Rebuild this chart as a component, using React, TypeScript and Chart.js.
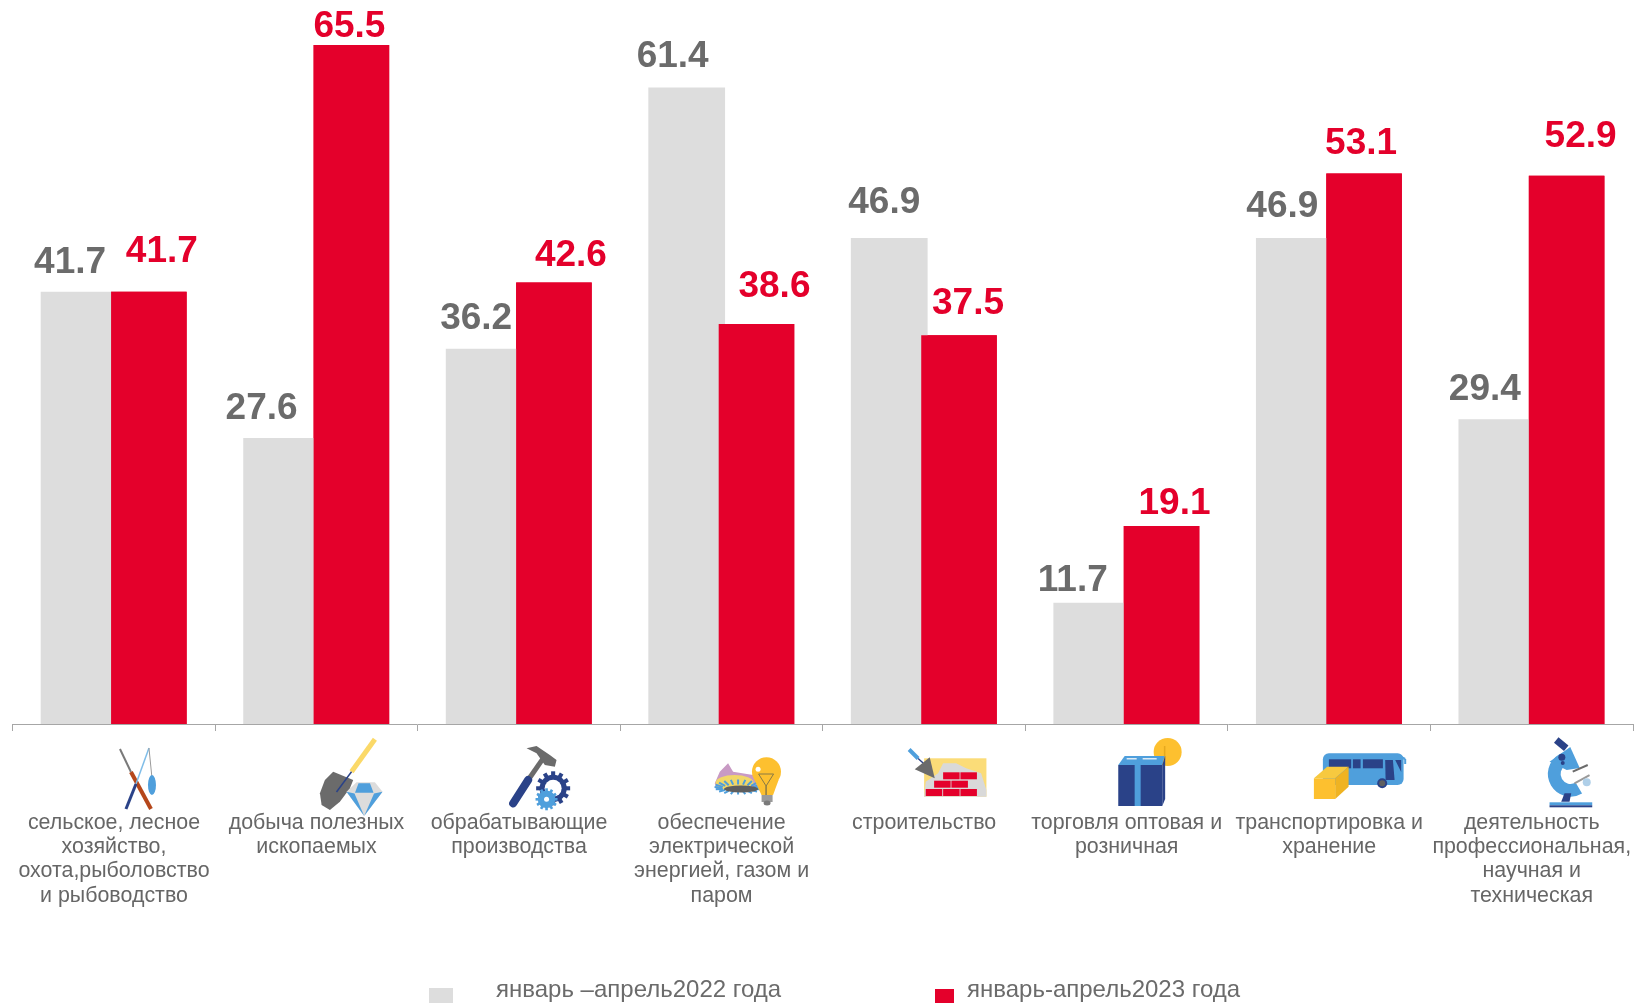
import React, { useEffect, useRef } from "react";
import { Chart, registerables } from "chart.js";

Chart.register(...registerables);

const categories: string[][] = [
  ["сельское, лесное", "хозяйство,", "охота,рыболовство", "и рыбоводство"],
  ["добыча полезных", "ископаемых"],
  ["обрабатывающие", "производства"],
  ["обеспечение", "электрической", "энергией, газом и", "паром"],
  ["строительство"],
  ["торговля оптовая и", "розничная"],
  ["транспортировка и", "хранение"],
  ["деятельность", "профессиональная,", "научная и", "техническая"],
];
const values2022 = [41.7, 27.6, 36.2, 61.4, 46.9, 11.7, 46.9, 29.4];
const values2023 = [41.7, 65.5, 42.6, 38.6, 37.5, 19.1, 53.1, 52.9];
const label2022 = "январь –апрель2022 года";
const label2023 = "январь-апрель2023 года";

const GRAY = "#DDDDDD";
const RED = "#E4002B";
const FONT = '"Liberation Sans", Arial, sans-serif';
const BLUE = "#4F9FDC";
const NAVY = "#2A4288";
const SLATE = "#6B6B6B";
const YELLOW = "#FDC02F";

// Hand-placed data label offsets from the top-centre of each bar, as in the source slide
const nudges: [number, number][][] = [
  [[-9, -29], [-20, -29], [-8, -30], [-14, -31], [-5, -35], [-19, -22], [-12, -31], [-12, -29]],
  [[13, -40], [-2, -18], [17, -27], [18, -37], [9, -32], [13, -22], [-3, -30], [14, -39]],
];
const legendLayout = [
  { box: [429, 988, 24, 15], textX: 496 },
  { box: [935, 989, 19, 14], textX: 967 },
];

type C = CanvasRenderingContext2D;
const poly = (ctx: C, color: string, pts: number[][]) => {
  ctx.fillStyle = color;
  ctx.beginPath();
  pts.forEach((p, i) => (i ? ctx.lineTo(p[0], p[1]) : ctx.moveTo(p[0], p[1])));
  ctx.closePath();
  ctx.fill();
};
const seg = (ctx: C, color: string, w: number, a: number[], b: number[]) => {
  ctx.strokeStyle = color;
  ctx.lineWidth = w;
  ctx.beginPath();
  ctx.moveTo(a[0], a[1]);
  ctx.lineTo(b[0], b[1]);
  ctx.stroke();
};
const disc = (ctx: C, color: string, x: number, y: number, rx: number, ry = rx) => {
  ctx.fillStyle = color;
  ctx.beginPath();
  ctx.ellipse(x, y, rx, ry, 0, 0, Math.PI * 2);
  ctx.fill();
};
const box = (ctx: C, color: string, x: number, y: number, w: number, h: number) => {
  ctx.fillStyle = color;
  ctx.fillRect(x, y, w, h);
};
const gear = (ctx: C, color: string, x: number, y: number, r: number) => {
  ctx.save();
  ctx.translate(x, y);
  ctx.strokeStyle = color;
  ctx.lineWidth = r * 0.24;
  for (let k = 0; k < 12; k++) {
    ctx.rotate(Math.PI / 6);
    ctx.beginPath();
    ctx.moveTo(0, r * 0.6);
    ctx.lineTo(0, r);
    ctx.stroke();
  }
  ctx.restore();
  disc(ctx, color, x, y, r * 0.8);
};

// Small pictograms above the category labels; origin is category centre on the axis line
const icons: ((ctx: C) => void)[] = [
  (ctx) => {
    seg(ctx, "#7a7a7a", 2, [6, 25], [17, 48]);
    seg(ctx, "#b5471b", 4, [17, 48], [37, 85]);
    seg(ctx, "#7fbde8", 1.5, [35, 24], [22, 60]);
    seg(ctx, NAVY, 3, [22, 60], [12, 85]);
    seg(ctx, "#9a9a9a", 1, [35, 24], [38, 54]);
    disc(ctx, BLUE, 38, 61, 4, 10);
  },
  (ctx) => {
    seg(ctx, "#FBD968", 5, [58.4, 15.3], [35, 47.7]);
    poly(ctx, SLATE, [[16.7, 47.7], [36.7, 56], [33.4, 64.3], [23.4, 77.7], [13.4, 86], [5.1, 81], [3.4, 69.3], [8.4, 56]]);
    seg(ctx, NAVY, 1.5, [35, 47.7], [20, 68]);
    poly(ctx, "#DCDCDC", [[30, 67.7], [40, 58.3], [58.4, 58.3], [66, 67.7], [47.7, 92]]);
    poly(ctx, BLUE, [[42, 59.3], [53.5, 59.3], [57, 68.7], [38.5, 68.7]]);
    poly(ctx, BLUE, [[30, 67.7], [38, 69.5], [47.7, 92]]);
    poly(ctx, BLUE, [[66, 67.7], [57.5, 69.5], [47.7, 92]]);
  },
  (ctx) => {
    seg(ctx, SLATE, 5, [9.1, 56], [24.1, 34.3]);
    ctx.lineCap = "round";
    seg(ctx, NAVY, 8, [-5.9, 79.3], [9.1, 56]);
    ctx.lineCap = "butt";
    poly(ctx, SLATE, [[7.5, 24.3], [17.5, 22], [30.8, 31], [37.5, 36], [35.8, 42.7], [25.8, 41], [17.5, 29.3]]);
    gear(ctx, NAVY, 34.1, 64.3, 17);
    disc(ctx, "#FFFFFF", 34.1, 64.3, 8.5);
    gear(ctx, BLUE, 27.5, 75.3, 11);
    disc(ctx, "#FFFFFF", 27.5, 75.3, 2.5);
  },
  (ctx) => {
    poly(ctx, "#C89AC4", [[-6.8, 59.3], [-1.8, 47.7], [6.5, 39.3], [11.5, 47.7], [31.5, 51], [36.5, 62.7], [-5, 66]]);
    disc(ctx, "#F1D766", 13, 59, 19, 8);
    ctx.save();
    ctx.translate(16.5, 64);
    for (let k = 0; k < 20; k++) {
      const a = (k / 20) * Math.PI * 2;
      seg(ctx, BLUE, 2, [Math.cos(a) * 16, Math.sin(a) * 3.5], [Math.cos(a) * 23.5, Math.sin(a) * 7.5 - 1]);
    }
    ctx.restore();
    disc(ctx, "#5F5F5F", 19.5, 65, 17, 3.5);
    disc(ctx, YELLOW, 44.9, 47.7, 14.5);
    poly(ctx, YELLOW, [[33, 56], [57, 56], [51.5, 71], [39.9, 71]]);
    disc(ctx, "#FFFFFF", 36.5, 45.3, 2.5);
    seg(ctx, "#8A7A45", 1, [37, 50], [52, 50]);
    seg(ctx, "#8A7A45", 1, [37, 50], [44.5, 62]);
    seg(ctx, "#8A7A45", 1, [52, 50], [44.5, 62]);
    seg(ctx, "#8A7A45", 1.5, [44.5, 62], [44.5, 71]);
    box(ctx, "#9A9A9A", 40, 71, 11, 7);
    disc(ctx, "#7A7A7A", 45.5, 79, 3.5, 2.5);
  },
  (ctx) => {
    box(ctx, "#FBDC78", 0, 34.3, 62.3, 38.4);
    poly(ctx, "#D9D9D9", [[0, 72.7], [1.6, 57.7], [14, 49.3], [19, 39.3], [32, 39.3], [42, 44.3], [57, 49.3], [62.3, 66], [62.3, 72.7]]);
    for (const [x, y] of [[19, 48.3], [36.3, 48.3], [10, 56.7], [27.3, 56.7], [1.6, 65], [19, 65], [36.3, 65]]) {
      box(ctx, RED, x, y, 16.5, 7);
    }
    seg(ctx, BLUE, 4, [-15, 25.5], [-6, 34.5]);
    seg(ctx, NAVY, 1.5, [-6, 34.5], [-1, 39]);
    poly(ctx, SLATE, [[5.6, 33.3], [-9.4, 45.3], [10.6, 54.3]]);
  },
  (ctx) => {
    disc(ctx, YELLOW, 41, 28, 14);
    seg(ctx, "#E5A91F", 1.5, [38, 22], [38, 36]);
    box(ctx, NAVY, -8.4, 41, 44, 41);
    poly(ctx, BLUE, [[-8.4, 41], [-2, 32], [38, 32], [35.6, 41]]);
    poly(ctx, NAVY, [[35.6, 41], [38.5, 32], [38.5, 75], [35.6, 82]]);
    box(ctx, BLUE, 8, 41, 6, 41);
    box(ctx, "#DCEBF7", 0, 34, 10, 1.5);
    box(ctx, "#DCEBF7", 16, 34, 14, 1.5);
  },
  (ctx) => {
    ctx.fillStyle = BLUE;
    ctx.beginPath();
    ctx.roundRect(-6.3, 29.3, 80.7, 31.7, 6);
    ctx.fill();
    seg(ctx, BLUE, 2, [70, 32], [76, 35]);
    seg(ctx, BLUE, 2, [76, 35], [76, 40]);
    box(ctx, NAVY, -0.3, 35.3, 22.3, 9);
    box(ctx, NAVY, 23.7, 35.3, 7.7, 9);
    box(ctx, NAVY, 33.7, 35.3, 20, 9);
    poly(ctx, NAVY, [[56, 36], [63.7, 36], [65.4, 56], [56.4, 56]]);
    poly(ctx, NAVY, [[66, 36], [72, 36], [72, 48]]);
    disc(ctx, NAVY, 53, 59.3, 5);
    disc(ctx, "#5F5F5F", 53, 59.3, 3);
    box(ctx, YELLOW, -15.3, 54.3, 21.3, 20.7);
    poly(ctx, "#F7C93F", [[-15.3, 54.3], [-2, 42.7], [19.4, 42.7], [6, 54.3]]);
    poly(ctx, "#EFB322", [[6, 54.3], [19.4, 42.7], [19.4, 62.7], [6, 75]]);
  },
  (ctx) => {
    seg(ctx, NAVY, 7, [24.5, 16], [34.5, 24.3]);
    poly(ctx, BLUE, [[17.8, 37.7], [38.5, 23], [48, 44], [35, 46]]);
    ctx.strokeStyle = BLUE;
    ctx.lineWidth = 12.7;
    ctx.beginPath();
    ctx.arc(38.8, 50, 16.3, Math.PI * 0.33, Math.PI * 1.45);
    ctx.stroke();
    disc(ctx, NAVY, 30.1, 33.3, 3.5);
    disc(ctx, NAVY, 31, 39, 2);
    seg(ctx, SLATE, 2, [41, 47.7], [56, 41]);
    seg(ctx, "#9A9A9A", 2, [42.8, 59.3], [57.8, 51]);
    disc(ctx, "#AFCFE8", 55, 58.3, 4);
    poly(ctx, NAVY, [[29.5, 77.7], [32.8, 69.3], [39.5, 69.3], [37.8, 77.7]]);
    box(ctx, BLUE, 17.8, 78.3, 42.7, 3);
    box(ctx, NAVY, 17.8, 81.3, 42.7, 2);
  },
];

const overlayPlugin = {
  id: "overlay",
  // Chart.js paints the first dataset last; the red series must lie over the grey one
  afterDatasetsDraw(chart: any) {
    chart.getDatasetMeta(1).controller.draw();
  },
  afterDraw(chart: any) {
    const ctx: C = chart.ctx;
    const xScale = chart.scales.x;
    // icons
    icons.forEach((draw, i) => {
      ctx.save();
      ctx.translate(xScale.getPixelForValue(i), chart.chartArea.bottom);
      ctx.lineCap = "butt";
      draw(ctx);
      ctx.restore();
    });
    // data labels
    ctx.save();
    ctx.font = `bold 37px ${FONT}`;
    ctx.textAlign = "center";
    ctx.textBaseline = "middle";
    chart.data.datasets.forEach((ds: any, d: number) => {
      ctx.fillStyle = d === 0 ? SLATE : RED;
      chart.getDatasetMeta(d).data.forEach((bar: any, i: number) => {
        const [dx, dy] = nudges[d][i];
        ctx.fillText(Number(ds.data[i]).toFixed(1), bar.x + dx, bar.y + dy);
      });
    });
    ctx.restore();
    // legend
    ctx.save();
    ctx.font = `24px ${FONT}`;
    ctx.textAlign = "left";
    ctx.textBaseline = "middle";
    chart.data.datasets.forEach((ds: any, d: number) => {
      const l = legendLayout[d];
      ctx.fillStyle = ds.backgroundColor;
      ctx.fillRect(l.box[0], l.box[1], l.box[2], l.box[3]);
      ctx.fillStyle = SLATE;
      ctx.fillText(ds.label, l.textX, 990);
    });
    ctx.restore();
  },
};

export default function App() {
  const ref = useRef<HTMLCanvasElement>(null);
  useEffect(() => {
    const chart = new Chart(ref.current!, {
      type: "bar",
      data: {
        labels: categories,
        datasets: [
          { label: label2022, data: values2022, backgroundColor: GRAY, categoryPercentage: 0.689, barPercentage: 1.1 },
          { label: label2023, data: values2023, backgroundColor: RED, categoryPercentage: 0.689, barPercentage: 1.083 },
        ],
      },
      options: {
        animation: false,
        responsive: false,
        layout: { autoPadding: false, padding: { left: 12.7, right: 15, top: 0, bottom: 0 } },
        plugins: { legend: { display: false }, tooltip: { enabled: false }, title: { display: false } },
        scales: {
          y: { display: false, min: 0, max: 69.85 },
          x: {
            afterFit(scale: any) {
              scale.height = 279;
              scale.paddingLeft = 0;
              scale.paddingRight = 0;
            },
            grid: { drawOnChartArea: false, drawTicks: true, tickLength: 7, color: "#A6A6A6", offset: true },
            border: { display: true, color: "#A6A6A6", width: 1 },
            ticks: {
              autoSkip: false,
              maxRotation: 0,
              minRotation: 0,
              padding: 80,
              color: "#666666",
              font: { family: FONT, size: 21.4, lineHeight: 1.13 },
            },
          },
        },
      },
      plugins: [overlayPlugin],
    } as any);
    return () => chart.destroy();
  }, []);
  return (
    <div style={{ position: "absolute", left: 0, top: 0, width: 1648, height: 1003, overflow: "hidden", background: "#fff" }}>
      <canvas ref={ref} width={1648} height={1003} style={{ display: "block" }} />
    </div>
  );
}
